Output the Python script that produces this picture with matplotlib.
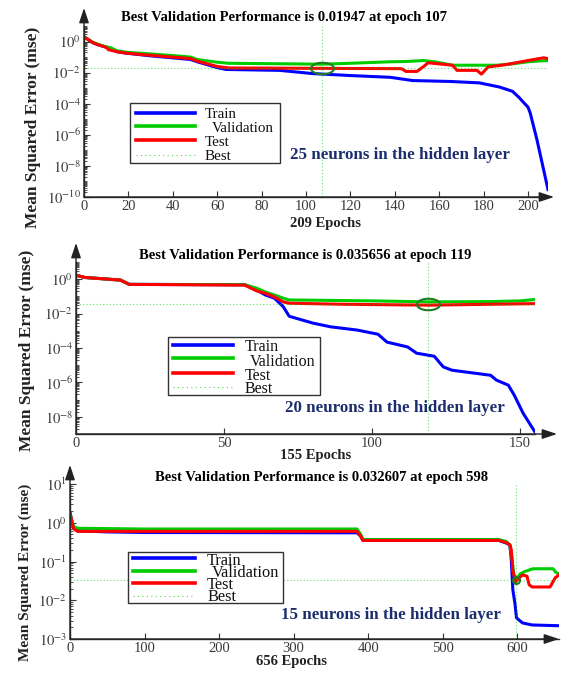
import numpy as np
import matplotlib
matplotlib.use('Agg')
import matplotlib.pyplot as plt
from matplotlib.path import Path
from matplotlib.patches import Rectangle, FancyArrowPatch
from matplotlib.lines import Line2D
from matplotlib.ticker import FixedLocator, LogLocator, NullFormatter, FuncFormatter

plt.rcParams['font.family'] = ['Liberation Serif', 'DejaVu Serif']
plt.rcParams['mathtext.fontset'] = 'stix'

# ---- 25 neurons ----
train1_ep = [0, 4, 6, 11, 15, 19, 30, 48, 51, 60, 64, 88, 103, 120, 138, 148, 165, 178, 187, 193, 196, 198, 200, 201, 204, 209]
train1 = [2.0, 0.83, 0.64, 0.4, 0.22, 0.18, 0.12, 0.07, 0.05, 0.021, 0.016, 0.014, 0.0087, 0.0065, 0.005, 0.0031,
          0.0027, 0.0022, 0.0012, 6.3e-4, 2.5e-4, 1.2e-4, 6e-5, 2.5e-5, 5e-7, 3e-10]
valid1_ep = [0, 4, 6, 10, 12, 15, 20, 30, 45, 48, 51, 60, 65, 90, 107, 120, 138, 145, 153, 158, 166, 176, 186, 192, 200, 204, 209]
valid1 = [2.0, 0.9, 0.7, 0.45, 0.4, 0.25, 0.2, 0.16, 0.11, 0.1, 0.07, 0.047, 0.04, 0.037, 0.035, 0.04, 0.05, 0.052,
          0.06, 0.05, 0.03, 0.03, 0.03, 0.035, 0.05, 0.055, 0.06]
test1_ep = [0, 4, 6, 10, 11, 15, 19, 30, 48, 51, 60, 65, 100, 143, 145, 150, 153, 155, 166, 168, 177, 179, 182, 190,
            200, 207, 209]
test1 = [2.0, 0.85, 0.65, 0.42, 0.3, 0.22, 0.18, 0.13, 0.08, 0.055, 0.025, 0.02, 0.019, 0.018, 0.012, 0.012, 0.025,
         0.043, 0.03, 0.014, 0.014, 0.008, 0.023, 0.033, 0.06, 0.09, 0.08]
best1_ep, best1 = 107, 0.01947

# ---- 20 neurons ----
train2_ep = [0, 3, 15, 18, 57, 61, 64, 67, 70, 72, 80, 86, 95, 102, 105, 112, 115, 121, 124, 127, 140, 142, 146, 148, 151, 155]
train2 = [1.7, 1.26, 0.89, 0.5, 0.48, 0.23, 0.12, 0.079, 0.025, 0.007, 0.0028, 0.0017, 0.0011, 6.3e-4, 2.2e-4,
          1.15e-4, 5e-5, 3.3e-5, 8e-6, 5.1e-6, 2.6e-6, 1.35e-6, 6.9e-7, 1.8e-7, 1.6e-8, 1.3e-9]
valid2_ep = [0, 3, 15, 18, 57, 61, 64, 67, 70, 72, 80, 100, 119, 140, 150, 155]
valid2 = [1.7, 1.26, 0.89, 0.5, 0.48, 0.3, 0.18, 0.12, 0.079, 0.062, 0.06, 0.055, 0.048, 0.05, 0.055, 0.066]
test2_ep = [0, 3, 15, 18, 57, 61, 64, 67, 70, 72, 90, 119, 155]
test2 = [1.7, 1.26, 0.89, 0.5, 0.45, 0.21, 0.15, 0.093, 0.048, 0.04, 0.035, 0.031, 0.038]
best2_ep, best2 = 119, 0.035656

# ---- 15 neurons ----
train3_ep = [0, 3, 5, 10, 50, 100, 385, 390, 393, 500, 575, 585, 590, 592, 594, 597, 599, 607, 620, 656]
train3 = [1.8, 1.0, 0.75, 0.62, 0.58, 0.56, 0.55, 0.45, 0.35, 0.35, 0.35, 0.3, 0.27, 0.11, 0.019, 0.008, 0.0035,
          0.0026, 0.0023, 0.0022]
valid3_ep = [0, 3, 5, 10, 100, 385, 390, 393, 575, 585, 590, 593, 595, 598, 601, 604, 610, 621, 648, 652, 656]
valid3 = [1.8, 1.0, 0.8, 0.72, 0.69, 0.69, 0.5, 0.37, 0.37, 0.33, 0.27, 0.12, 0.05, 0.0326, 0.04, 0.048, 0.055,
          0.065, 0.065, 0.052, 0.048]
test3_ep = [0, 3, 5, 10, 100, 385, 390, 393, 575, 585, 590, 592, 594, 596, 598, 601, 607, 613, 616, 620, 644, 648,
            651, 656]
test3 = [1.8, 0.95, 0.7, 0.6, 0.6, 0.6, 0.45, 0.35, 0.35, 0.31, 0.27, 0.2, 0.06, 0.04, 0.03, 0.035, 0.045, 0.042,
         0.025, 0.022, 0.022, 0.03, 0.038, 0.045]
best3_ep, best3 = 598, 0.032607

legend_labels = ['Train', 'Validation', 'Test', 'Best']
BLUE, GREEN, RED = '#0000ff', '#00cc00', '#ff0000'
NAVY = '#1c2d6e'
AXC = '#333333'

W, H = 574, 675
fig = plt.figure(figsize=(W / 100, H / 100), dpi=100)


def fx(x):
    return x / W


def fy(y):
    return 1 - y / H


t = np.linspace(0, 2 * np.pi, 80)
ellipse = Path(np.column_stack([np.cos(t), 0.5 * np.sin(t)]))


def make_panel(box, xmax, ylim, xticks, major_exps):
    x0, y0, x1, y1 = box
    ax = fig.add_axes([fx(x0), fy(y1), (x1 - x0) / W, (y1 - y0) / H])
    ax.set_yscale('log')
    ax.set_xlim(0, xmax)
    ax.set_ylim(*ylim)
    ax.yaxis.set_major_locator(FixedLocator([10.0 ** e for e in major_exps]))
    ax.yaxis.set_major_formatter(FuncFormatter(lambda v, p: r'$10^{%d}$' % round(np.log10(v))))
    ax.yaxis.set_minor_locator(LogLocator(base=10, subs=np.arange(1, 10), numticks=300))
    ax.yaxis.set_minor_formatter(NullFormatter())
    ax.set_xticks(xticks)
    ax.tick_params(axis='both', which='major', direction='in', length=4, width=0.8, color=AXC,
                   labelsize=10.5, labelcolor='#3a3a3a', pad=2)
    ax.tick_params(axis='y', which='minor', direction='in', length=2.5, width=0.6, color=AXC)
    for s in ['top', 'right']:
        ax.spines[s].set_visible(False)
    for s in ['left', 'bottom']:
        ax.spines[s].set_color(AXC)
        ax.spines[s].set_linewidth(1.0)
    ax.patch.set_alpha(0)
    return ax


def arrows(box, ytip, xtip):
    x0, y0, x1, y1 = box
    style = dict(arrowstyle='-|>,head_length=0.9,head_width=0.3', color='#222222', lw=1.0,
                 shrinkA=0, shrinkB=0, mutation_scale=10, transform=fig.transFigure)
    fig.add_artist(FancyArrowPatch((fx(x0), fy(y1)), (fx(x0), fy(ytip)), **style))
    fig.add_artist(FancyArrowPatch((fx(x0), fy(y1)), (fx(xtip), fy(y1)), **style))


def draw_series(ax, tr, va, te, best, ell_w, oval=True):
    ax.plot(*tr, color=BLUE, lw=2.2, solid_joinstyle='round')
    ax.plot(*va, color=GREEN, lw=2.2, solid_joinstyle='round')
    ax.plot(*te, color=RED, lw=2.2, solid_joinstyle='round')
    bx, by = best
    ax.axhline(by, color=GREEN, lw=0.8, ls=(0, (1, 2)), alpha=0.6)
    ax.axvline(bx, color=GREEN, lw=0.8, ls=(0, (1, 2)), alpha=0.6)
    mk = ellipse if oval else 'o'
    ax.plot([bx], [by], marker=mk, ms=ell_w * 0.72, mfc='none', mec='#1e7d1e', mew=1.5, clip_on=False)


def draw_legend(box, line_x, ys, text_x, text_ys, fs):
    x0, y0, x1, y1 = box
    fig.add_artist(Rectangle((fx(x0), fy(y1)), (x1 - x0) / W, (y1 - y0) / H, transform=fig.transFigure,
                             facecolor='white', edgecolor=AXC, lw=1.0, zorder=2))
    cols = [BLUE, GREEN, RED]
    for i in range(3):
        fig.add_artist(Line2D([fx(line_x[0]), fx(line_x[1])], [fy(ys[i]), fy(ys[i])], color=cols[i], lw=2.6,
                              transform=fig.transFigure, zorder=3))
    fig.add_artist(Line2D([fx(line_x[0]), fx(line_x[1])], [fy(ys[3]), fy(ys[3])], color=GREEN, lw=0.8,
                          ls=(0, (1, 3)), alpha=0.7, transform=fig.transFigure, zorder=3))
    for lab, tx, ty in zip(legend_labels, text_x, text_ys):
        fig.text(fx(tx), fy(ty), lab, fontsize=fs, color='#111111', va='center', ha='left', zorder=4)


# panel 1: 25 neurons
box1 = (84, 26, 548, 197)
ax1 = make_panel(box1, 209, (1e-10, 1e1), range(0, 201, 20), range(-10, 1, 2))
draw_series(ax1, (train1_ep, train1), (valid1_ep, valid1), (test1_ep, test1), (best1_ep, best1), 23)
arrows(box1, 8, 554)
fig.text(fx(284), fy(18), 'Best Validation Performance is 0.01947 at epoch 107', ha='center', va='center',
         fontsize=10.5, fontweight='bold')
fig.text(fx(325), fy(223), '209 Epochs', ha='center', va='center', fontsize=10.5, fontweight='bold', color='#222')
fig.text(fx(33), fy(127), 'Mean Squared Error (mse)', rotation=90, ha='center', va='center', fontsize=12.5,
         fontweight='bold', color='#222')
draw_legend((130, 103, 280, 163), (136, 195), (113, 126, 140, 155), (205, 212, 205, 205), (115, 128, 142, 157), 10.8)
fig.text(fx(400), fy(155), '25 neurons in the hidden layer', ha='center', va='center', fontsize=12.2,
         fontweight='bold', color=NAVY)

# panel 2: 20 neurons
box2 = (76, 262, 535, 434)
ax2 = make_panel(box2, 155, (1e-9, 1e1), [0, 50, 100, 150], range(-8, 1, 2))
draw_series(ax2, (train2_ep, train2), (valid2_ep, valid2), (test2_ep, test2), (best2_ep, best2), 23)
arrows(box2, 243, 557)
fig.text(fx(305), fy(255), 'Best Validation Performance is 0.035656 at epoch 119', ha='center', va='center',
         fontsize=10.5, fontweight='bold')
fig.text(fx(316), fy(455), '155 Epochs', ha='center', va='center', fontsize=10.5, fontweight='bold', color='#222')
fig.text(fx(27), fy(350), 'Mean Squared Error (mse)', rotation=90, ha='center', va='center', fontsize=12.5,
         fontweight='bold', color='#222')
draw_legend((168, 337, 320, 395), (173, 233), (345, 358, 373, 387), (245, 250, 245, 245), (347, 362, 376, 389), 11.5)
fig.text(fx(395), fy(408), '20 neurons in the hidden layer', ha='center', va='center', fontsize=12.2,
         fontweight='bold', color=NAVY)

# panel 3: 15 neurons
box3 = (70, 484, 559, 639)
ax3 = make_panel(box3, 656, (1e-3, 1e1), range(0, 601, 100), range(-3, 2))
draw_series(ax3, (train3_ep, train3), (valid3_ep, valid3), (test3_ep, test3), (best3_ep, best3), 7, oval=False)
arrows(box3, 465, 559)
fig.text(fx(322), fy(478), 'Best Validation Performance is 0.032607 at epoch 598', ha='center', va='center',
         fontsize=10.5, fontweight='bold')
fig.text(fx(291), fy(662), '656 Epochs', ha='center', va='center', fontsize=10.5, fontweight='bold', color='#222')
fig.text(fx(25), fy(572), 'Mean Squared Error (mse)', rotation=90, ha='center', va='center', fontsize=11,
         fontweight='bold', color='#222')
draw_legend((128, 552, 283, 603), (133, 195), (558, 571, 583, 596), (207, 212, 207, 207), (561, 573, 585, 597), 11.8)
fig.text(fx(391), fy(615), '15 neurons in the hidden layer', ha='center', va='center', fontsize=12.2,
         fontweight='bold', color=NAVY)

fig.savefig('out.png', dpi=100)
